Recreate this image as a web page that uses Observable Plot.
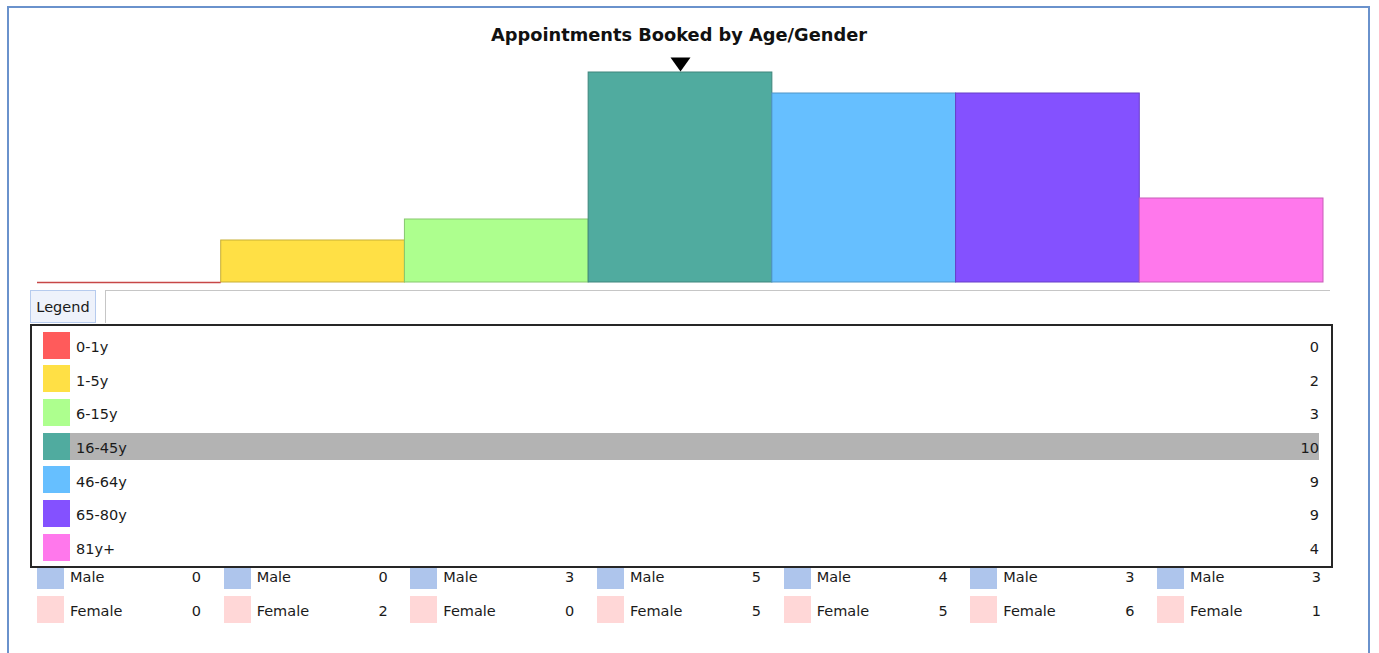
<!DOCTYPE html>
<html>
<head>
<meta charset="utf-8">
<script src="https://cdn.jsdelivr.net/npm/d3@7"></script>
<script src="https://cdn.jsdelivr.net/npm/@observablehq/plot@0.6"></script>
<style>
  html, body { margin: 0; padding: 0; background: #fff; overflow: hidden; }
  body { width: 1379px; height: 653px; position: relative; font-family: "DejaVu Sans", sans-serif; color: #1a1a1a; }
  #frame { position: absolute; left: 7px; top: 6px; width: 1363px; height: 700px; border: 2px solid #6a92cc; box-sizing: border-box; }
  #chart { position: absolute; left: 0; top: 0; }
  .abs { position: absolute; box-sizing: border-box; }
  .txt { position: absolute; font-size: 14.5px; line-height: 18px; white-space: nowrap; }
  #tab { left: 30px; top: 290px; width: 66px; height: 33px; background: #eef2fb; border: 1px solid #b6cbee; font-size: 14.5px; line-height: 33px; text-align: center; }
  #tabline { left: 105px; top: 290px; width: 1225px; height: 33px; border-top: 1px solid #c6c6c6; border-left: 1px solid #c6c6c6; }
  #box { left: 30px; top: 324px; width: 1303px; height: 244px; border: 2px solid #262626; background: #fff; }
</style>
</head>
<body>
<div id="frame"></div>
<div id="chart"></div>
<div id="legend"></div>
<script>
// ---- data ----
const ages = ["0-1y", "1-5y", "6-15y", "16-45y", "46-64y", "65-80y", "81y+"];
const totals = [0, 2, 3, 10, 9, 9, 4];
const maleCounts = [0, 0, 3, 5, 4, 3, 3];
const femaleCounts = [0, 2, 0, 5, 5, 6, 1];
const palette = ["#ff5b5b", "#ffe045", "#adff8e", "#50ab9f", "#66bfff", "#8451ff", "#ff78ec"];
const selectedAge = "16-45y";
const titleText = "Appointments Booked by Age/Gender";
const genderLabels = ["Male", "Female"];
const genderColors = ["#aec5ec", "#ffd7d7"];

const rows = ages.map((age, i) => ({ age, count: totals[i], male: maleCounts[i], female: femaleCounts[i], color: palette[i] }));
const edge = c => d3.color(c).darker(0.7).formatHex();

const downTriangle = {
  draw(ctx) {
    ctx.moveTo(-10, -7);
    ctx.lineTo(10, -7);
    ctx.lineTo(0, 7);
    ctx.closePath();
  }
};

const chart = Plot.plot({
  width: 1379,
  height: 290,
  marginLeft: 37,
  marginRight: 56,
  marginTop: 72,
  marginBottom: 8,
  x: { domain: ages, padding: 0, round: false, axis: null },
  y: { domain: [0, 10], axis: null },
  style: { fontFamily: "DejaVu Sans", background: "transparent", overflow: "visible" },
  marks: [
    Plot.barY(rows, { x: "age", y: "count", fill: d => d.color, stroke: d => edge(d.color), strokeWidth: 1 }),
    Plot.tickY(rows.filter(d => d.count === 0), { x: "age", y: "count", stroke: d => edge(d.color), strokeWidth: 1.5 }),
    Plot.dot(rows.filter(d => d.age === selectedAge), { x: "age", y: "count", symbol: downTriangle, fill: "black", stroke: "none", dy: -8 }),
    Plot.text([titleText], { frameAnchor: "top", lineAnchor: "middle", dy: -37, dx: -1.5, fontSize: 17.8, fontWeight: "bold", fill: "#111" })
  ]
});
document.getElementById("chart").append(chart);

// ---- legend (HTML) ----
const L = document.getElementById("legend");
function el(cls, id, style, text) {
  const d = document.createElement("div");
  d.className = cls;
  if (id) d.id = id;
  Object.assign(d.style, style || {});
  if (text != null) d.textContent = text;
  L.append(d);
  return d;
}
el("abs", "tabline");
el("abs", "tab", {}, "Legend");
el("abs", "box");

const rowTop = 331.5, rowPitch = 33.67, sw = 27;
rows.forEach((r, i) => {
  const top = rowTop + i * rowPitch;
  if (r.age === selectedAge) {
    el("abs", null, { left: "70px", top: top + "px", width: "1249px", height: sw + "px", background: "#b3b3b3" });
  }
  el("abs", null, { left: "43px", top: top + "px", width: sw + "px", height: sw + "px", background: r.color });
  el("txt", null, { left: "76px", top: (top + sw / 2 - 7) + "px" }, r.age);
  el("txt", null, { right: (1379 - 1319) + "px", top: (top + sw / 2 - 7) + "px" }, String(r.count));
});

const colLeft = 37, colPitch = 186.67;
rows.forEach((r, i) => {
  const x = colLeft + i * colPitch;
  const vals = [r.male, r.female];
  const swTop = [568, 596], swH = [21, 27], cy = [577, 611];
  genderLabels.forEach((g, k) => {
    el("abs", null, { left: x + "px", top: swTop[k] + "px", width: "27px", height: swH[k] + "px", background: genderColors[k] });
    el("txt", null, { left: (x + 33) + "px", top: (cy[k] - 9) + "px" }, g);
    el("txt", null, { right: (1379 - (x + 164)) + "px", top: (cy[k] - 9) + "px" }, String(vals[k]));
  });
});
</script>
</body>
</html>
